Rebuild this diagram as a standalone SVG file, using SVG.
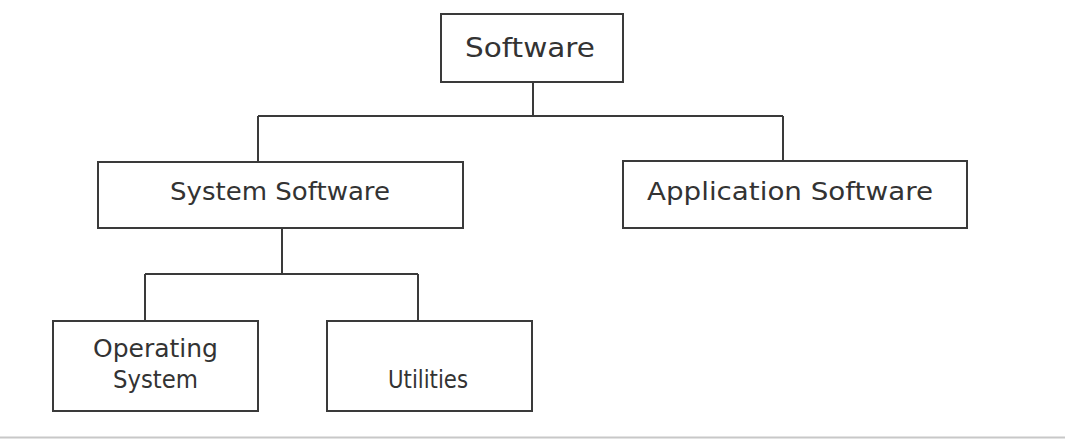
<svg xmlns="http://www.w3.org/2000/svg" width="1065" height="439" viewBox="0 0 1065 439">
<style>
.box{fill:#fff;stroke:#3a3a3a;stroke-width:2}
.lbl{font-family:"DejaVu Sans","Liberation Sans",sans-serif;font-size:24px;fill:#333;text-anchor:middle}
.conn{fill:none;stroke:#3a3a3a;stroke-width:2}
</style>
<rect x="0" y="0" width="1065" height="439" fill="#fff"/>
<line x1="0" y1="437.5" x2="1065" y2="437.5" stroke="#c8c8c8" stroke-width="2"/>
<g id="connectors">
<path class="conn" d="M533 82 V116 M258 116 H783 M258 116 V162 M783 116 V161"/>
<path class="conn" d="M282 228 V274 M145 274 H418 M145 274 V321 M418 274 V321"/>
</g>
<g id="software">
<rect class="box" x="441" y="14" width="182" height="68"/>
<text class="lbl" x="530" y="57" style="font-size:27px" textLength="130" lengthAdjust="spacingAndGlyphs">Software</text>
</g>
<g id="system-software">
<rect class="box" x="98" y="162" width="365" height="66"/>
<text class="lbl" x="280" y="200" textLength="220" lengthAdjust="spacingAndGlyphs">System Software</text>
</g>
<g id="application-software">
<rect class="box" x="623" y="161" width="344" height="67"/>
<text class="lbl" x="790" y="200" textLength="286" lengthAdjust="spacingAndGlyphs">Application Software</text>
</g>
<g id="operating-system">
<rect class="box" x="53" y="321" width="205" height="90"/>
<text class="lbl" x="155.5" y="357" textLength="125" lengthAdjust="spacingAndGlyphs">Operating</text>
<text class="lbl" x="155.5" y="388" textLength="85" lengthAdjust="spacingAndGlyphs">System</text>
</g>
<g id="utilities">
<rect class="box" x="327" y="321" width="205" height="90"/>
<text class="lbl" x="428" y="388" textLength="80" lengthAdjust="spacingAndGlyphs">Utilities</text>
</g>
</svg>
